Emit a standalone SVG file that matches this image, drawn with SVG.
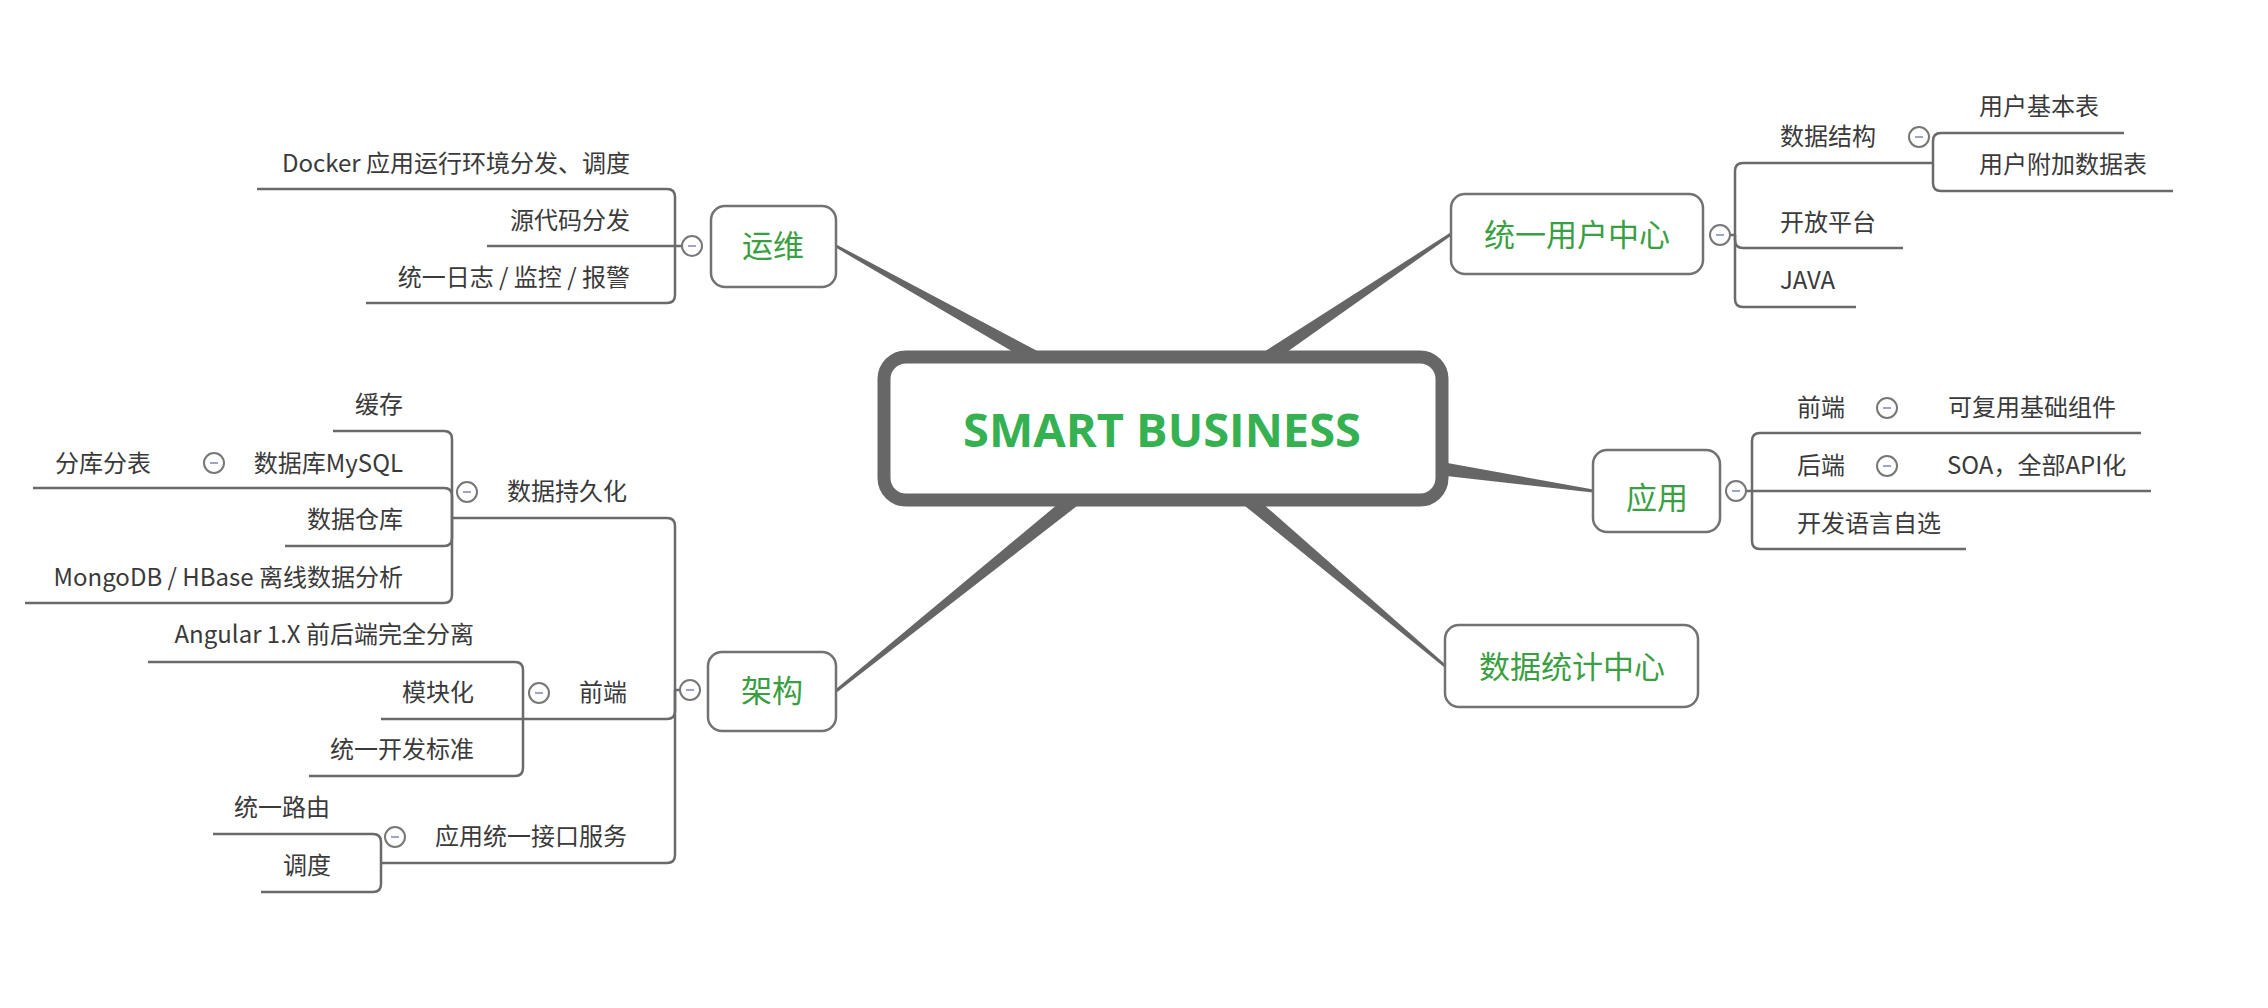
<svg xmlns="http://www.w3.org/2000/svg" width="2268" height="1008" viewBox="0 0 2268 1008">
<style>
.br{fill:none;stroke:#6a6a6a;stroke-width:2.5;stroke-linejoin:round}
.tp{fill:#666}
.box{fill:#fff;stroke:#727272;stroke-width:2.5}
.t{font-family:"Noto Sans CJK SC","Noto Sans",sans-serif;font-size:24px;fill:#3a3a3a}
.e{text-anchor:end}
.g{font-family:"Noto Sans CJK SC","Noto Sans",sans-serif;font-size:31px;fill:#3a9f42;text-anchor:middle}
.cc{fill:#fff;stroke:#777;stroke-width:2}
.mn{stroke:#9ea4c4;stroke-width:2}
</style>
<defs>
<g id="col"><circle class="cc" r="10"/><line class="mn" x1="-4" y1="0" x2="4" y2="0"/></g>
</defs>
<rect width="2268" height="1008" fill="#fff"/>
<g id="connectors">
<polygon class="tp" points="1052.4,358.9 836.7,244.7 835.3,247.3 1045.6,371.1"/>
<polygon class="tp" points="1077.8,487.5 835.1,689.8 836.9,692.2 1086.6,498.5"/>
<polygon class="tp" points="1260.3,370.8 1451.8,235.2 1450.2,232.8 1252.5,359.2"/>
<polygon class="tp" points="1435,460.8 1593.2,489.5 1592.8,492.5 1433,474.6"/>
<polygon class="tp" points="1244.5,487.7 1446,664.9 1444,667.1 1235.5,498.3"/>
<!-- 运维 -->
<path class="br" d="M675,246 V197 Q675,189 667,189 H257"/>
<path class="br" d="M682,246 H487"/>
<path class="br" d="M675,246 V295 Q675,303 667,303 H366"/>
<!-- 架构 -->
<path class="br" d="M681,690 H675 V526 Q675,518 667,518 H452"/>
<path class="br" d="M675,690 V711 Q675,719 667,719 H523"/>
<path class="br" d="M675,690 V855 Q675,863 667,863 H381"/>
<!-- 数据持久化 -->
<path class="br" d="M452,518 V439 Q452,431 444,431 H333"/>
<path class="br" d="M452,518 V496 Q452,488 444,488 H33"/>
<path class="br" d="M452,518 V538 Q452,546 444,546 H285"/>
<path class="br" d="M452,518 V595 Q452,603 444,603 H25"/>
<!-- 前端 -->
<path class="br" d="M523,719 V670 Q523,662 515,662 H148"/>
<path class="br" d="M523,719 H381"/>
<path class="br" d="M523,719 V768 Q523,776 515,776 H309"/>
<!-- 应用统一接口服务 -->
<path class="br" d="M381,863 V842 Q381,834 373,834 H213"/>
<path class="br" d="M381,863 V884 Q381,892 373,892 H261"/>
<!-- 统一用户中心 -->
<path class="br" d="M1729,235 H1735 V171 Q1735,163 1743,163 H1933"/>
<path class="br" d="M1735,235 V240 Q1735,248 1743,248 H1903"/>
<path class="br" d="M1735,235 V299 Q1735,307 1743,307 H1856"/>
<path class="br" d="M1933,163 V141 Q1933,133 1941,133 H2124"/>
<path class="br" d="M1933,163 V183 Q1933,191 1941,191 H2173"/>
<!-- 应用 -->
<path class="br" d="M1752,491 V441 Q1752,433 1760,433 H2141"/>
<path class="br" d="M1745,491 H2151"/>
<path class="br" d="M1752,491 V541 Q1752,549 1760,549 H1966"/>
</g>
<g id="root">
<rect x="884" y="357" width="558" height="143" rx="22" fill="#fff" stroke="#676767" stroke-width="13"/>
<text x="1162" y="447" text-anchor="middle" font-family="'Open Sans','DejaVu Sans',sans-serif" font-weight="bold" font-size="47" fill="#35b152">SMART BUSINESS</text>
</g>
<g id="yunwei">
<rect class="box" x="711" y="206" width="125" height="81" rx="14"/>
<text class="g" x="773" y="257">运维</text>
<use href="#col" x="692" y="246"/>
</g>
<g id="yw1"><text class="t e" x="630" y="172">Docker 应用运行环境分发、调度</text></g>
<g id="yw2"><text class="t e" x="630" y="229">源代码分发</text></g>
<g id="yw3"><text class="t e" x="630" y="286">统一日志 / 监控 / 报警</text></g>
<g id="jiagou">
<rect class="box" x="708" y="652" width="128" height="79" rx="14"/>
<text class="g" x="772" y="702">架构</text>
<use href="#col" x="690" y="690"/>
</g>
<g id="persist"><text class="t e" x="627" y="500">数据持久化</text><use href="#col" x="467" y="492"/></g>
<g id="cache"><text class="t e" x="403" y="413">缓存</text></g>
<g id="mysql"><text class="t e" x="403" y="472">数据库MySQL</text><use href="#col" x="214" y="463"/></g>
<g id="shard"><text class="t e" x="151" y="472">分库分表</text></g>
<g id="dw"><text class="t e" x="403" y="528">数据仓库</text></g>
<g id="mongo"><text class="t e" x="403" y="586">MongoDB / HBase 离线数据分析</text></g>
<g id="fe"><text class="t e" x="627" y="701">前端</text><use href="#col" x="539" y="693"/></g>
<g id="angular"><text class="t e" x="474" y="643">Angular 1.X 前后端完全分离</text></g>
<g id="module"><text class="t e" x="474" y="701">模块化</text></g>
<g id="std"><text class="t e" x="474" y="758">统一开发标准</text></g>
<g id="api"><text class="t e" x="627" y="845">应用统一接口服务</text><use href="#col" x="395" y="837"/></g>
<g id="route"><text class="t e" x="330" y="816">统一路由</text></g>
<g id="sched"><text class="t e" x="331" y="874">调度</text></g>
<g id="user">
<rect class="box" x="1451" y="194" width="252" height="80" rx="14"/>
<text class="g" x="1577" y="246">统一用户中心</text>
<use href="#col" x="1720" y="235"/>
</g>
<g id="ds"><text class="t" x="1780" y="145">数据结构</text><use href="#col" x="1919" y="137"/></g>
<g id="ut1"><text class="t" x="1979" y="115">用户基本表</text></g>
<g id="ut2"><text class="t" x="1979" y="173">用户附加数据表</text></g>
<g id="open"><text class="t" x="1780" y="231">开放平台</text></g>
<g id="java"><text class="t" x="1780" y="289">JAVA</text></g>
<g id="app">
<rect class="box" x="1593" y="450" width="127" height="82" rx="14"/>
<text class="g" x="1657" y="509">应用</text>
<use href="#col" x="1736" y="491"/>
</g>
<g id="afe"><text class="t" x="1797" y="416">前端</text><use href="#col" x="1887" y="408"/></g>
<g id="comp"><text class="t" x="1948" y="416">可复用基础组件</text></g>
<g id="abe"><text class="t" x="1797" y="474">后端</text><use href="#col" x="1887" y="466"/></g>
<g id="soa"><text class="t" x="1947" y="474">SOA，全部API化</text></g>
<g id="lang"><text class="t" x="1797" y="532">开发语言自选</text></g>
<g id="stats">
<rect class="box" x="1445" y="625" width="253" height="82" rx="14"/>
<text class="g" x="1572" y="678">数据统计中心</text>
</g>
</svg>
